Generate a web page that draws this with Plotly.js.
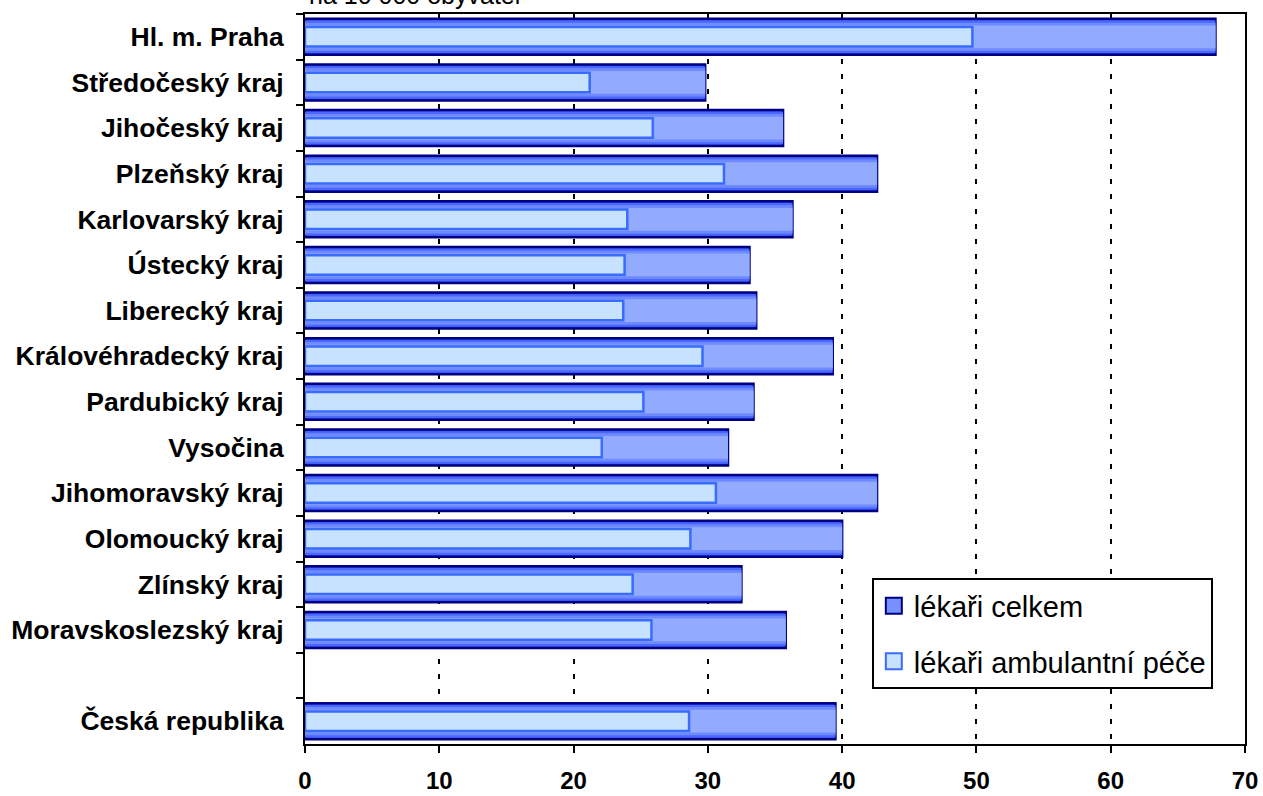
<!DOCTYPE html>
<html>
<head>
<meta charset="utf-8">
<script src="https://cdn.plot.ly/plotly-3.0.1.min.js"></script>
<style>html,body{margin:0;padding:0;background:#fff;}#chart{width:1263px;height:796px;}</style>
</head>
<body>
<div id="chart"></div>
<script>
const categories = [
  "Hl. m. Praha", "Středočeský kraj", "Jihočeský kraj", "Plzeňský kraj",
  "Karlovarský kraj", "Ústecký kraj", "Liberecký kraj", "Královéhradecký kraj",
  "Pardubický kraj", "Vysočina", "Jihomoravský kraj", "Olomoucký kraj",
  "Zlínský kraj", "Moravskoslezský kraj", " ", "Česká republika"
];
const lekariCelkem = [67.8, 29.8, 35.6, 42.6, 36.3, 33.1, 33.6, 39.3, 33.4, 31.5, 42.6, 40.0, 32.5, 35.8, null, 39.5];
const lekariAmbulantni = [49.7, 21.2, 25.9, 31.2, 24.0, 23.8, 23.7, 29.6, 25.2, 22.1, 30.6, 28.7, 24.4, 25.8, null, 28.6];
const seriesNames = ["lékaři celkem", "lékaři ambulantní péče"];
const titleText = "na 10 000 obyvatel";

const FONT = 'Arial, "Liberation Sans", sans-serif';

// gradient-like layering for the total bars
const totalLayers = [
  {w: 0.79, c: '#2A48F0', line: {color: '#000080', width: 2.5}},
  {w: 0.71, c: '#4A68FF', line: {width: 0}},
  {w: 0.62, c: '#6F8AFF', line: {width: 0}},
  {w: 0.50, c: '#93ABFF', line: {width: 0}}
];
const traces = totalLayers.map(l => ({
  type: 'bar', orientation: 'h', y: categories, x: lekariCelkem,
  width: l.w, marker: {color: l.c, line: l.line},
  showlegend: false, hoverinfo: 'x+y'
}));
traces.push({
  type: 'bar', orientation: 'h', y: categories, x: lekariAmbulantni,
  width: 0.43, marker: {color: '#C6E2FF', line: {color: '#3A6BFF', width: 2.5}},
  showlegend: false, hoverinfo: 'x+y'
});
// legend entries
traces.push({
  type: 'scatter', mode: 'markers', x: [null], y: [null], name: seriesNames[0],
  legendgroup: 'a',
  marker: {symbol: 'square', size: 16, color: '#7790FF', line: {color: '#000080', width: 2}}
});
traces.push({
  type: 'scatter', mode: 'markers', x: [null], y: [null], name: seriesNames[1],
  legendgroup: 'b',
  marker: {symbol: 'square', size: 16, color: '#C6E2FF', line: {color: '#3A6BFF', width: 2}}
});

const layout = {
  width: 1263, height: 796,
  margin: {l: 305, r: 18, t: 14, b: 52, pad: 0},
  paper_bgcolor: '#fff', plot_bgcolor: '#fff',
  barmode: 'overlay',
  font: {family: FONT, color: '#000'},
  xaxis: {
    range: [0, 70], dtick: 10, tick0: 0,
    showgrid: true, gridcolor: '#000', gridwidth: 2, griddash: '5px,10px',
    zeroline: false,
    showline: true, linecolor: '#000', linewidth: 2, mirror: true,
    ticks: 'outside', ticklen: 7, tickwidth: 2, tickcolor: '#000',
    ticklabelstandoff: 7,
    tickfont: {family: FONT, size: 24, weight: 'bold', color: '#000'}
  },
  yaxis: {
    type: 'category', autorange: 'reversed',
    categoryorder: 'array', categoryarray: categories,
    tickson: 'boundaries',
    showgrid: false, zeroline: false,
    showline: true, linecolor: '#000', linewidth: 2, mirror: true,
    ticks: 'outside', ticklen: 7, tickwidth: 2, tickcolor: '#000',
    ticklabelstandoff: 14,
    tickfont: {family: FONT, size: 26.5, weight: 'bold', color: '#000'}
  },
  legend: {
    x: 0.603, y: 0.227, xanchor: 'left', yanchor: 'top',
    bgcolor: '#fff', bordercolor: '#000', borderwidth: 2,
    font: {family: FONT, size: 29, color: '#000'},
    traceorder: 'grouped', tracegroupgap: 15
  },
  annotations: [{
    text: titleText, xref: 'paper', yref: 'paper',
    x: 0, y: 1.004, xanchor: 'left', yanchor: 'bottom',
    showarrow: false, xshift: 2,
    font: {family: FONT, size: 25, color: '#000'}
  }]
};

Plotly.newPlot('chart', traces, layout, {displayModeBar: false, staticPlot: true});
</script>
</body>
</html>
